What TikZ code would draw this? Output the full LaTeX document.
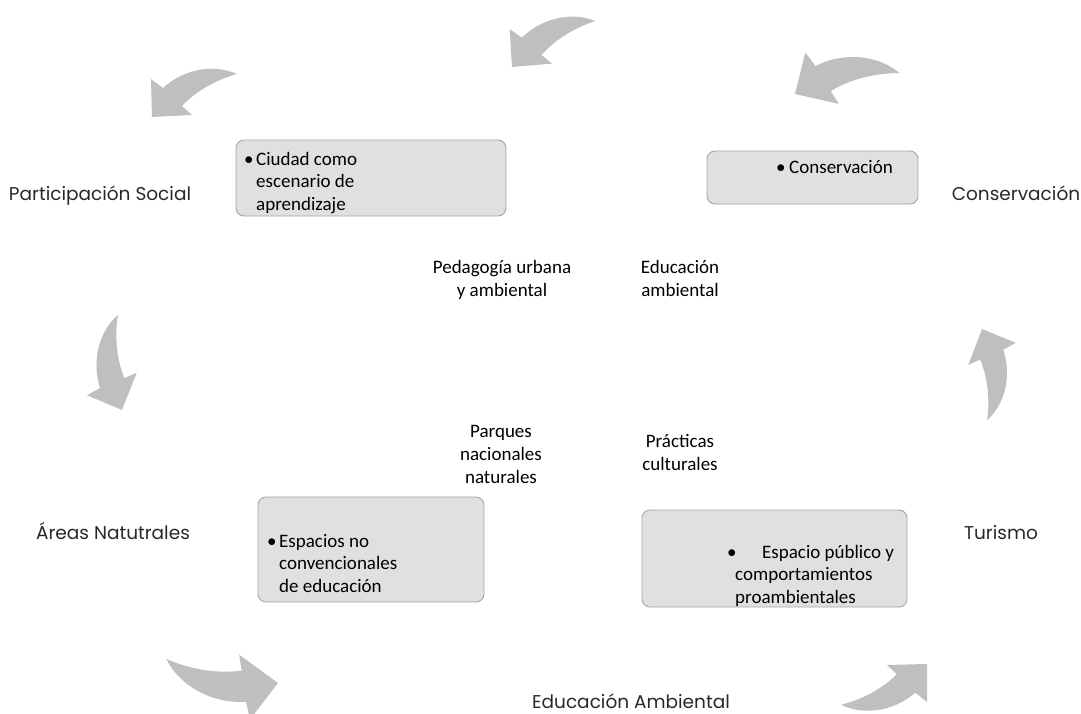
\documentclass[tikz,border=0pt]{standalone}
\usepackage{fontspec}
\newfontfamily\carlito{Carlito}
\newfontfamily\gothic{Poppins}
\usetikzlibrary{positioning}

\definecolor{arrowgray}{RGB}{191,191,191}
\definecolor{boxfill}{RGB}{224,224,224}
\definecolor{boxline}{RGB}{165,165,165}
\definecolor{labelgray}{RGB}{40,40,40}

\newcommand{\bulletmark}[1][12pt]{\makebox[#1][l]{\textbullet}}
\newcommand{\hangpad}[1][12pt]{\hspace*{#1}}

\begin{document}
\begin{tikzpicture}[x=1pt, y=-1pt,
  box/.style={draw=boxline, fill=boxfill, rounded corners=8pt, line width=0.9pt, inner sep=0pt},
  boxtext/.style={font=\carlito\fontsize{19}{22.5}\selectfont, align=left, anchor=north west, inner sep=0pt},
  midtext/.style={font=\carlito\fontsize{19}{23}\selectfont, align=center, anchor=north, inner sep=0pt},
  cyclelabel/.style={font=\gothic\fontsize{18.5}{21}\selectfont, text=labelgray, anchor=base, inner sep=0pt},
  curvedarrow/.pic={
    \fill[arrowgray] (85,-43) .. controls (58,-55) and (28,-45) .. (11,-29)
      -- (-1,-38) -- (0,0) -- (40,-2) -- (30,-11)
      .. controls (43,-25) and (63,-37) .. (85,-43) -- cycle;
  }]
\useasboundingbox (0,0) rectangle (1081,713);

% arrows round the cycle
\pic at (152,117) {curvedarrow};
\pic[rotate=2] at (512,67) {curvedarrow};
\pic[rotate=-15.5, scale=1.12] at (795,94) {curvedarrow};
\pic[rotate=65.6] at (122,410) {curvedarrow};
\pic[rotate=-113.7, scale=0.96] at (982,329) {curvedarrow};
\pic[rotate=141, scale=1.2] at (278,683) {curvedarrow};
\pic[rotate=178.5] at (927,664) {curvedarrow};

% boxes
\node[box, minimum width=270, minimum height=76] (ciudad) at (371,178) {};
\node[box, minimum width=211, minimum height=53] (conserv) at (812.5,177.5) {};
\node[box, minimum width=226, minimum height=105] (espacios) at (371,549.5) {};
\node[box, minimum width=265, minimum height=97] (publico) at (774.5,558.5) {};

\node[boxtext] (ciudadtxt) at (244,149.25)
  {\strut\bulletmark Ciudad como\\\hangpad escenario de\\\hangpad aprendizaje};
\node[boxtext] (conservtxt) at (776,157.25) {\strut\bulletmark[13pt]Conservación};
\node[boxtext] (espaciostxt) at (267,531.25)
  {\strut\bulletmark Espacios no\\\hangpad convencionales\\\hangpad de educación};
\node[boxtext] (publicotxt) at (727,542.25)
  {\strut\bulletmark[35pt]Espacio público y\\\hangpad[8pt]comportamientos\\\hangpad[8pt]proambientales};

% middle labels
\node[midtext] (pedagogia) at (502,256.9) {\strut Pedagogía urbana\\y ambiental};
\node[midtext] (educacion) at (680,256.9) {\strut Educación\\ambiental};
\node[midtext] (parques) at (501,420.9) {\strut Parques\\nacionales\\naturales};
\node[midtext] (practicas) at (680,430.9) {\strut Prácticas\\culturales};

% cycle labels
\node[cyclelabel] (participacion) at (100,200) {Participación Social};
\node[cyclelabel] (conservacion) at (1016,200) {Conservación};
\node[cyclelabel] (areas) at (113,539) {Áreas Natutrales};
\node[cyclelabel] (turismo) at (1001,539) {Turismo};
\node[cyclelabel] (ambiental) at (631,708) {Educación Ambiental};
\end{tikzpicture}
\end{document}
